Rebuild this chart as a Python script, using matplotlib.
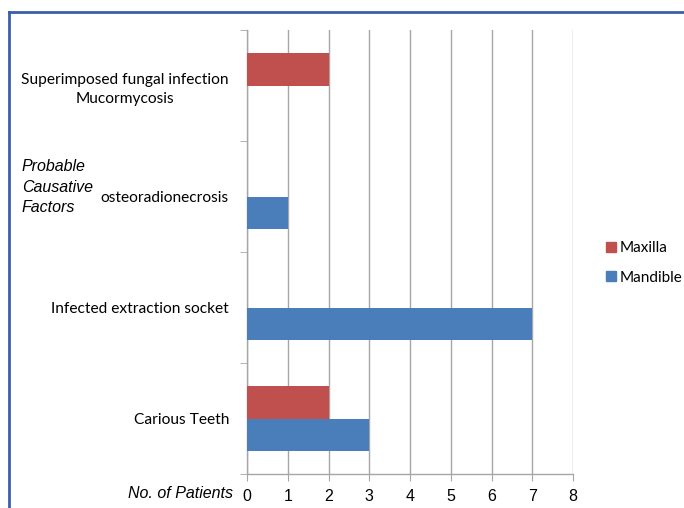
import numpy as np
import matplotlib
matplotlib.use('Agg')
import matplotlib.pyplot as plt
from matplotlib.lines import Line2D

# 数据（自下而上）
categories = ['Carious Teeth', 'Infected extraction socket', 'osteoradionecrosis',
              'Superimposed fungal infection\nMucormycosis']
maxilla = [2, 0, 0, 2]
mandible = [3, 7, 1, 0]
series_names = ['Maxilla', 'Mandible']
x_ticks = [0, 1, 2, 3, 4, 5, 6, 7, 8]

RED = '#C0504D'
BLUE = '#4A7EBB'
GRID = '#A6A6A6'

fig = plt.figure(figsize=(6.84, 5.08), dpi=100)
ax = fig.add_axes([247 / 684, 1 - 474 / 508, (573 - 247) / 684, (474 - 30) / 508])

y = np.arange(len(categories))
h = 0.29
ax.barh(y + h / 2, maxilla, height=h, color=RED, zorder=3)
ax.barh(y - h / 2, mandible, height=h, color=BLUE, zorder=3)

ax.set_xlim(0, 8)
ax.set_ylim(-0.5, len(categories) - 0.5)
ax.set_xticks(x_ticks)
ax.set_xticklabels([str(t) for t in x_ticks], fontfamily='Liberation Sans', fontsize=11.5)
ax.grid(axis='x', color=GRID, linewidth=1, zorder=0)

ax.set_yticks(y)
ax.set_yticklabels(categories, fontfamily='Lato', fontsize=11.2, multialignment='center',
                   linespacing=1.5)
ax.set_yticks(np.arange(-0.5, len(categories), 1), minor=True)
ax.tick_params(axis='y', which='major', length=0, pad=13)
ax.tick_params(axis='y', which='minor', length=5, color=GRID)
ax.tick_params(axis='x', length=5, color=GRID, pad=6)

for s in ['top', 'right']:
    ax.spines[s].set_visible(False)
for s in ['left', 'bottom']:
    ax.spines[s].set_color(GRID)
    ax.spines[s].set_linewidth(1)

# 轴标题
fig.text(22 / 684, 1 - 187 / 508, 'Probable\nCausative\nFactors', fontfamily='Liberation Sans',
         fontstyle='italic', fontsize=11.5, va='center', ha='left', linespacing=1.45)
fig.text(233 / 684, 1 - 494 / 508, 'No. of Patients', fontfamily='Liberation Sans',
         fontstyle='italic', fontsize=11.5, va='center', ha='right')

# 图例
handles = [Line2D([], [], marker='s', linestyle='none', color=RED, markersize=7),
           Line2D([], [], marker='s', linestyle='none', color=BLUE, markersize=7)]
fig.legend(handles, series_names, loc='center left', bbox_to_anchor=(590 / 684, 1 - 263 / 508),
           frameon=False, prop={'family': 'Lato', 'size': 11}, handletextpad=0.05,
           labelspacing=1.0, handlelength=1.0)

# 外框（左、上蓝线）
fig.add_artist(Line2D([9 / 684, 9 / 684], [0, 1 - 12 / 508], color='#3B5FA8', linewidth=2))
fig.add_artist(Line2D([9 / 684, 1], [1 - 12 / 508, 1 - 12 / 508], color='#3B5FA8', linewidth=2))

fig.savefig('out.png', dpi=100)
